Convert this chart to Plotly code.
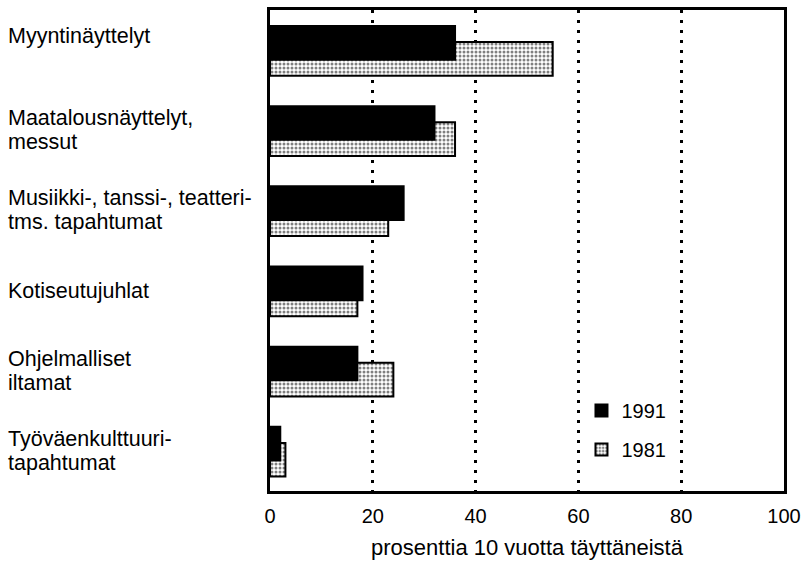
import plotly.graph_objects as go

categories = [
    "Myyntinäyttelyt",
    "Maatalousnäyttelyt,<br>messut",
    "Musiikki-, tanssi-, teatteri-<br>tms. tapahtumat",
    "Kotiseutujuhlat",
    "Ohjelmalliset<br>iltamat",
    "Työväenkulttuuri-<br>tapahtumat",
]
values_1991 = [36, 32, 26, 18, 17, 2]
values_1981 = [55, 36, 23, 17, 24, 3]
x_ticks = [0, 20, 40, 60, 80, 100]
x_title = "prosenttia 10 vuotta täyttäneistä"

n = len(categories)
pos = [n - 1 - i for i in range(n)]  # top category highest

FONT = "Liberation Sans, Arial, Helvetica, sans-serif"

fig = go.Figure()
fig.add_trace(go.Bar(
    y=pos, x=values_1981, orientation="h", name="1981",
    width=0.42, offset=-0.32,
    marker=dict(color="white",
                pattern=dict(shape=".", fgcolor="black", bgcolor="white", size=4, solidity=0.45),
                line=dict(color="black", width=2)),
    legendgroup="b", legendrank=2,
))
fig.add_trace(go.Bar(
    y=pos, x=values_1991, orientation="h", name="1991",
    width=0.42, offset=-0.12,
    marker=dict(color="black", line=dict(color="black", width=2)),
    legendgroup="a", legendrank=1,
))

LINE_GAP = 24
for p, label in zip(pos, categories):
    lines = label.split("<br>")
    k = len(lines)
    base = 14 if p == n - 1 else 0
    for j, line in enumerate(lines):
        fig.add_annotation(
            x=-0.514, xref="paper", y=p, yref="y",
            text=line, showarrow=False, xanchor="left", align="left",
            yshift=base + ((k - 1) / 2 - j) * LINE_GAP,
            font=dict(family=FONT, size=21.5, color="black"),
        )

fig.update_layout(
    width=808, height=566,
    margin=dict(l=270, r=20, t=7, b=75),
    paper_bgcolor="white", plot_bgcolor="white",
    barmode="overlay",
    font=dict(family=FONT, size=20, color="black"),
    legend=dict(x=0.606, y=0.208, xanchor="left", yanchor="top",
                bgcolor="rgba(0,0,0,0)", tracegroupgap=10,
                font=dict(family=FONT, size=20, color="black")),
    showlegend=True,
)
fig.update_xaxes(
    range=[0, 100], tickvals=x_ticks, ticktext=[str(t) for t in x_ticks],
    showgrid=True, gridcolor="black", gridwidth=2.5, griddash="3px,7px",
    showline=True, linecolor="black", linewidth=2.5, mirror=True,
    zeroline=False, ticks="", ticklabelstandoff=5,
    title=dict(text=x_title, standoff=14, font=dict(family=FONT, size=22)),
    tickfont=dict(family=FONT, size=20),
)
fig.update_yaxes(
    range=[-0.5, n - 0.5], showticklabels=False, showgrid=False,
    showline=True, linecolor="black", linewidth=2.5, mirror=True,
    zeroline=False, ticks="",
)

fig.write_html("out.html", config={"displayModeBar": False},
               post_script="document.body.style.margin='0';")
